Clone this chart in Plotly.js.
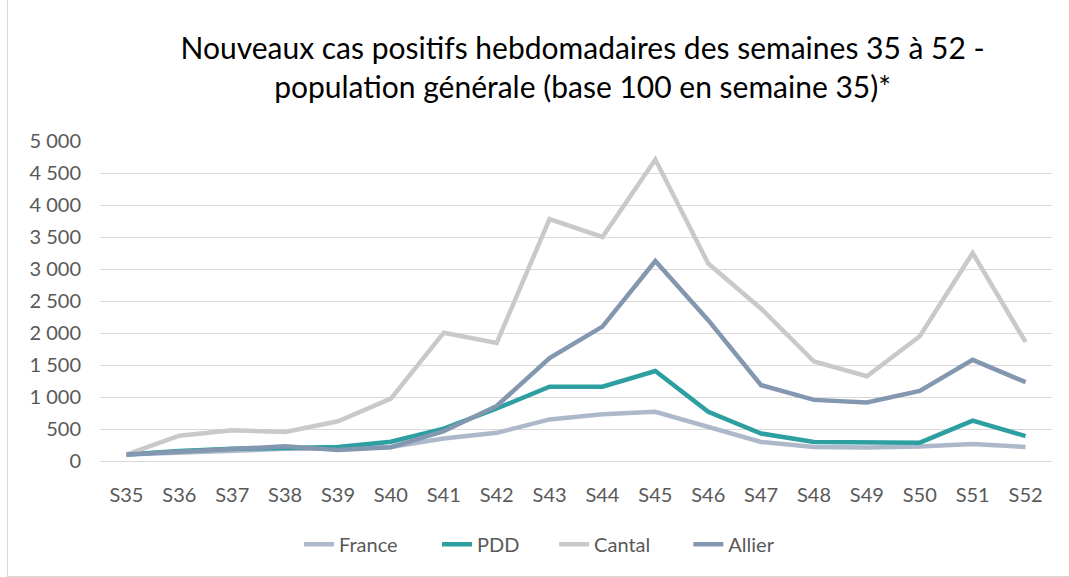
<!DOCTYPE html>
<html>
<head>
<meta charset="utf-8">
<script src="https://cdn.plot.ly/plotly-3.0.1.min.js"></script>
<style>
html,body{margin:0;padding:0;background:#fff;}
#chart{width:1069px;height:577px;position:absolute;left:0;top:0;}
#frame{position:absolute;left:7px;top:-2px;width:1070px;height:577px;border:1px solid #d9d9d9;pointer-events:none;}
</style>
</head>
<body>
<div id="chart"></div>
<div id="frame"></div>
<script>
const weeks = ["S35","S36","S37","S38","S39","S40","S41","S42","S43","S44","S45","S46","S47","S48","S49","S50","S51","S52"];
const france = [100,125,165,190,190,220,350,440,650,730,770,525,297,219,210,225,265,220];
const pdd    = [100,155,190,200,220,300,505,820,1160,1160,1405,770,430,297,297,287,630,390];
const cantal = [100,395,480,455,620,975,2005,1845,3780,3500,4710,3085,2380,1555,1325,1950,3250,1860];
const allier = [100,140,190,230,170,215,465,860,1610,2100,3125,2200,1185,955,915,1095,1580,1232];
const yTicks = [0,500,1000,1500,2000,2500,3000,3500,4000,4500,5000];

const series = [
  {name:"France", y:france, color:"#adb9ca", legend:"legend",  lx:0.209},
  {name:"PDD",    y:pdd,    color:"#2e9fa1", legend:"legend2", lx:0.354},
  {name:"Cantal", y:cantal, color:"#c9c9c9", legend:"legend3", lx:0.477},
  {name:"Allier", y:allier, color:"#8497b0", legend:"legend4", lx:0.618}
];
const traces = series.map(s => ({
  type:"scatter", mode:"lines", name:s.name, x:weeks, y:s.y, legend:s.legend,
  line:{color:s.color, width:4.5}
}));

const font = "Lato, 'Open Sans', sans-serif";
const layout = {
  width:1069, height:577,
  margin:{l:100, r:17, t:141, b:116},
  paper_bgcolor:"rgba(0,0,0,0)", plot_bgcolor:"#fff",
  font:{family:font, color:"#595959", size:20},
  title:{text:"Nouveaux cas positifs hebdomadaires des semaines 35 à 52 -<br>population générale (base 100 en semaine 35)*",
         font:{family:font, size:30, color:"#000"}, x:0.545, xanchor:"center", y:0.898, yanchor:"middle"},
  xaxis:{type:"category", range:[-0.5, weeks.length-0.5], showgrid:false, showline:false, zeroline:false, ticks:"",
         ticklabelstandoff:20, tickfont:{size:20, color:"#595959"}, automargin:false},
  yaxis:{range:[0,5000], tickvals:yTicks, ticktext:yTicks.map(v=>v.toLocaleString("fr-FR").replace(/\u202f|\u00a0/g," ")),
         showgrid:true, gridcolor:"#d9d9d9", gridwidth:1, zeroline:true, zerolinecolor:"#d9d9d9",
         showline:false, ticks:"", ticklen:0, ticklabelstandoff:18, tickfont:{size:20, color:"#595959"}, automargin:false},
  showlegend:true
};
series.forEach(s => {
  layout[s.legend] = {orientation:"h", x:s.lx, xanchor:"left", y:-0.26, yanchor:"middle",
                      bgcolor:"rgba(0,0,0,0)", font:{size:20, color:"#595959"}};
});
Plotly.newPlot("chart", traces, layout, {displayModeBar:false, staticPlot:true});
</script>
</body>
</html>
